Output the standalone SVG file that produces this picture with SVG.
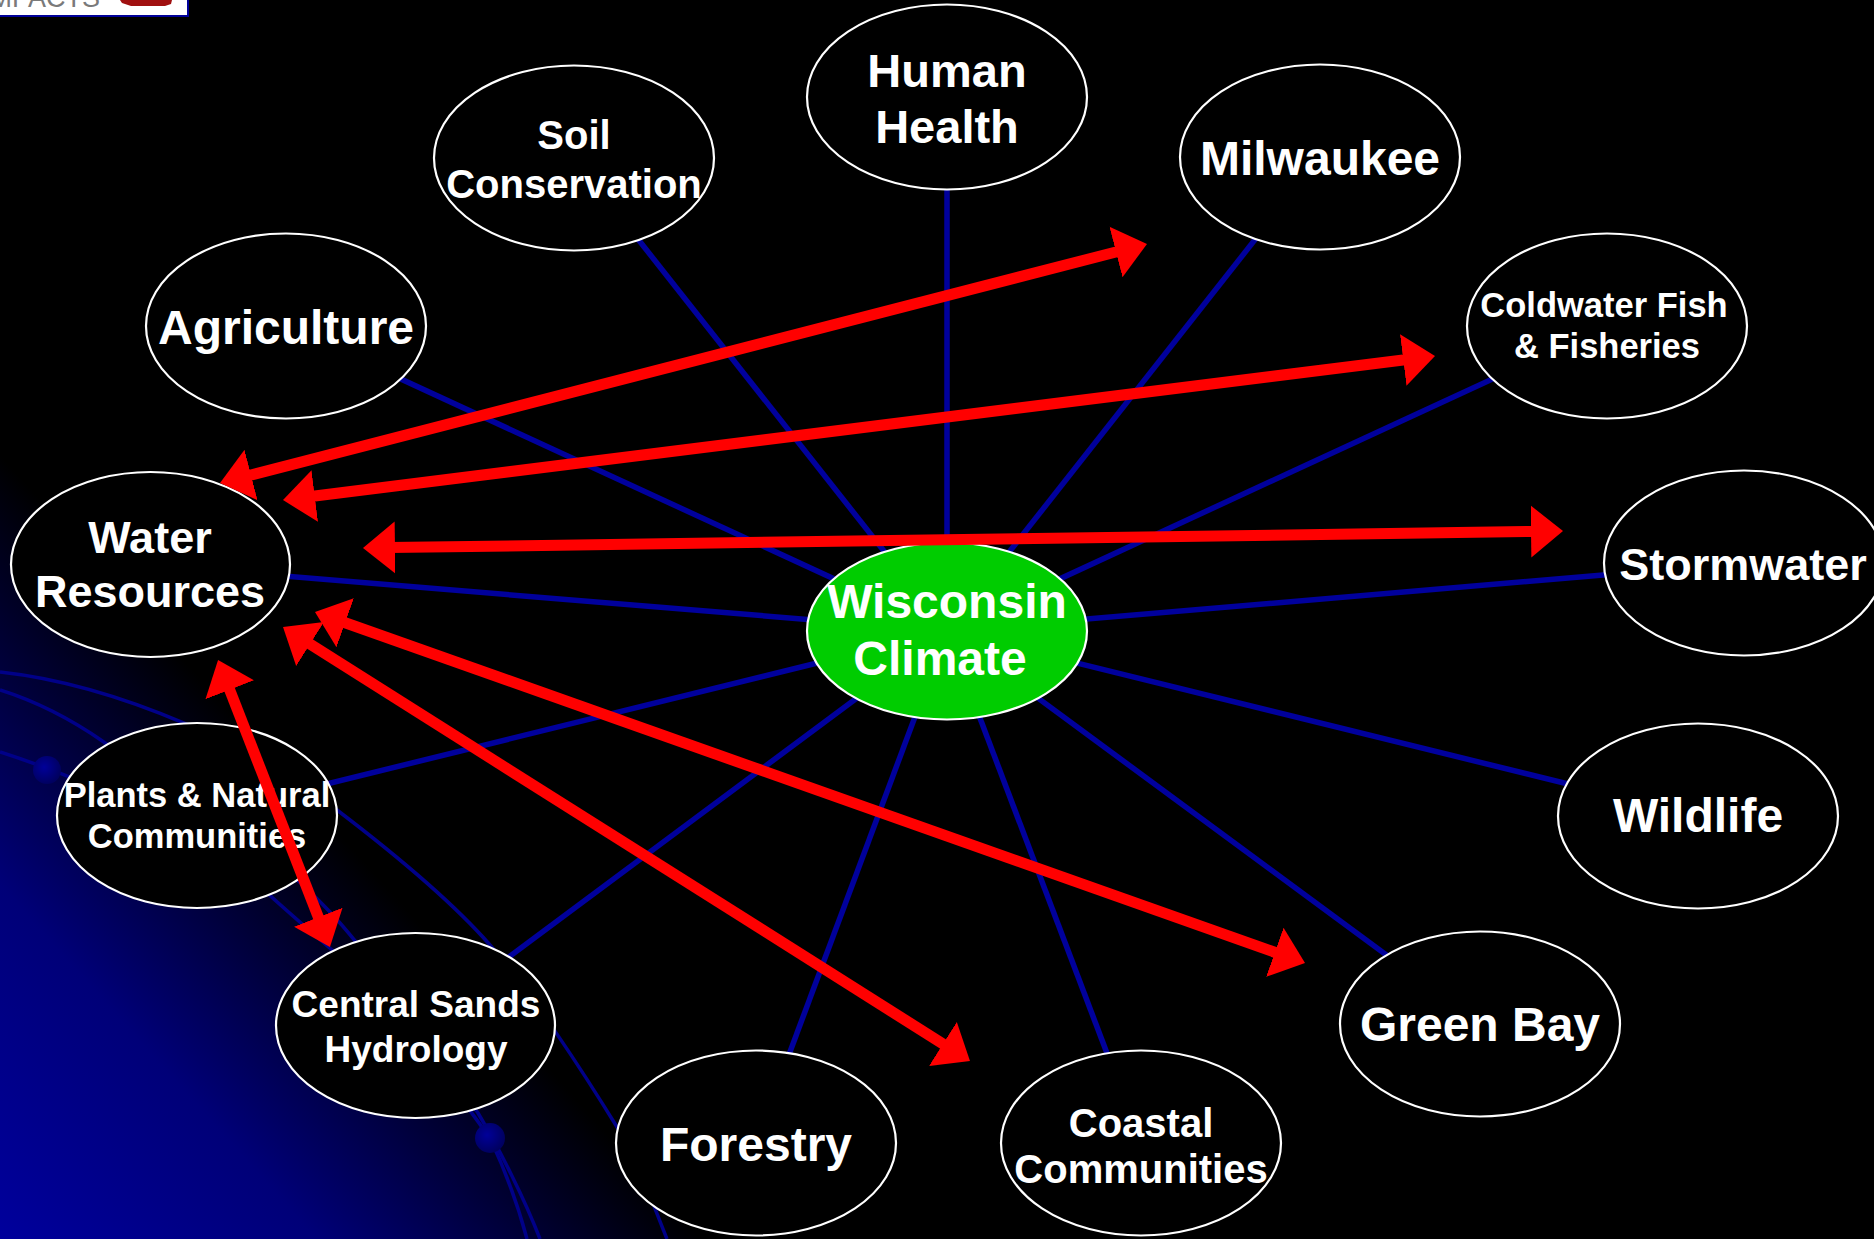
<svg xmlns="http://www.w3.org/2000/svg" width="1874" height="1239" viewBox="0 0 1874 1239">
<defs>
<style>
.bl{stroke:#00009c;stroke-width:5.5;fill:none}
.deco{stroke:#000088;stroke-width:3.5;fill:none}
.nd{fill:#000;stroke:#fff;stroke-width:2.2}
.t{font-family:"Liberation Sans",Arial,sans-serif;font-weight:bold;fill:#fff;text-anchor:middle}
.ar{stroke:#ff0000;stroke-width:11;fill:none;marker-start:url(#ah);marker-end:url(#ah)}
</style>
<linearGradient id="bg" gradientUnits="userSpaceOnUse" x1="0" y1="1239" x2="390" y2="890">
<stop offset="0" stop-color="#00009c"/>
<stop offset="0.45" stop-color="#000078"/>
<stop offset="1" stop-color="#000000"/>
</linearGradient>
<radialGradient id="dot" cx="0.4" cy="0.4" r="0.6">
<stop offset="0" stop-color="#000099"/>
<stop offset="1" stop-color="#000060"/>
</radialGradient>
<marker id="ah" markerUnits="userSpaceOnUse" markerWidth="34" markerHeight="54" viewBox="0 0 34 54" refX="6" refY="27" orient="auto-start-reverse">
<path d="M0,1 L32,27 L0,53 Z" fill="#ff0000"/>
</marker>
</defs>
<rect width="1874" height="1239" fill="#000"/>
<rect width="1874" height="1239" fill="url(#bg)"/>
<g id="logo">
<rect x="-2" y="-2" width="190" height="18" fill="#fff" stroke="#000099" stroke-width="2"/>
<text x="100" y="7" font-family="Liberation Sans,Arial,sans-serif" font-size="27" fill="#7a7a7a" text-anchor="end">IMPACTS</text>
<path d="M120,0 L172,0 L171,4 L165,6 L131,6 L122,3 Z" fill="#a01010"/>
</g>
<g id="decoration">
<path class="deco" d="M0,672 C120,685 260,750 337,810 C400,858 455,905 490,945 C530,990 585,1075 617,1127 C640,1165 655,1210 667,1239"/>
<path class="deco" d="M0,690 C70,712 140,760 200,830 C240,870 280,905 332,950 C400,1010 440,1070 490,1138 C505,1170 518,1205 527,1239"/>
<path class="deco" d="M250,840 C285,870 305,885 330,912 C380,965 440,1060 478,1113 C500,1150 525,1200 540,1239" stroke-width="3"/>
<path class="deco" d="M0,752 C40,765 80,780 110,795" stroke-width="2.5"/>
<circle cx="47" cy="770" r="14" fill="url(#dot)"/>
<circle cx="490" cy="1138" r="15" fill="url(#dot)"/>
</g>
<g id="connectors">
<line class="bl" x1="947" y1="631" x2="947" y2="97"/>
<line class="bl" x1="947" y1="631" x2="574" y2="158"/>
<line class="bl" x1="947" y1="631" x2="1320" y2="157"/>
<line class="bl" x1="947" y1="631" x2="286" y2="326"/>
<line class="bl" x1="947" y1="631" x2="1607" y2="326"/>
<line class="bl" x1="947" y1="631" x2="150" y2="565"/>
<line class="bl" x1="947" y1="631" x2="1744" y2="563"/>
<line class="bl" x1="947" y1="631" x2="197" y2="816"/>
<line class="bl" x1="947" y1="631" x2="1698" y2="816"/>
<line class="bl" x1="947" y1="631" x2="416" y2="1026"/>
<line class="bl" x1="947" y1="631" x2="1480" y2="1024"/>
<line class="bl" x1="947" y1="631" x2="756" y2="1143"/>
<line class="bl" x1="947" y1="631" x2="1141" y2="1143"/>
</g>
<g id="node-human-health">
<ellipse class="nd" cx="947" cy="97" rx="140" ry="92.5"/>
<text class="t" font-size="47"><tspan x="947" y="87">Human</tspan><tspan x="947" y="143">Health</tspan></text>
</g>
<g id="node-soil-conservation">
<ellipse class="nd" cx="574" cy="158" rx="140" ry="92.5"/>
<text class="t" font-size="40"><tspan x="574" y="149">Soil</tspan><tspan x="574" y="198">Conservation</tspan></text>
</g>
<g id="node-milwaukee">
<ellipse class="nd" cx="1320" cy="157" rx="140" ry="92.5"/>
<text class="t" font-size="48" x="1320" y="175">Milwaukee</text>
</g>
<g id="node-agriculture">
<ellipse class="nd" cx="286" cy="326" rx="140" ry="92.5"/>
<text class="t" font-size="48" x="286" y="344">Agriculture</text>
</g>
<g id="node-coldwater-fish">
<ellipse class="nd" cx="1607" cy="326" rx="140" ry="92.5"/>
<text class="t" font-size="34.5"><tspan x="1604" y="317">Coldwater Fish</tspan><tspan x="1607" y="358">&amp; Fisheries</tspan></text>
</g>
<g id="node-water-resources">
<ellipse class="nd" cx="150.5" cy="564.5" rx="139.5" ry="92.5"/>
<text class="t" font-size="45"><tspan x="150" y="553">Water</tspan><tspan x="150" y="607">Resources</tspan></text>
</g>
<g id="node-stormwater">
<ellipse class="nd" cx="1744" cy="563" rx="140" ry="92.5"/>
<text class="t" font-size="45" x="1743" y="580">Stormwater</text>
</g>
<g id="node-wisconsin-climate">
<ellipse cx="947" cy="631" rx="140" ry="88.5" fill="#00cc00" stroke="#fff" stroke-width="2.2"/>
<text class="t" font-size="48"><tspan x="947" y="618">Wisconsin</tspan><tspan x="940" y="675">Climate</tspan></text>
</g>
<g id="node-plants">
<ellipse class="nd" cx="197" cy="815.5" rx="140" ry="92.5"/>
<text class="t" font-size="34.5"><tspan x="197" y="807">Plants &amp; Natural</tspan><tspan x="197" y="848">Communities</tspan></text>
</g>
<g id="node-wildlife">
<ellipse class="nd" cx="1698" cy="816" rx="140" ry="92.5"/>
<text class="t" font-size="48" x="1698" y="832">Wildlife</text>
</g>
<g id="node-central-sands">
<ellipse class="nd" cx="415.5" cy="1025.5" rx="139.5" ry="92.5"/>
<text class="t" font-size="37"><tspan x="416" y="1017">Central Sands</tspan><tspan x="416" y="1062">Hydrology</tspan></text>
</g>
<g id="node-green-bay">
<ellipse class="nd" cx="1480" cy="1024" rx="140" ry="92.5"/>
<text class="t" font-size="48" x="1480" y="1041">Green Bay</text>
</g>
<g id="node-forestry">
<ellipse class="nd" cx="756" cy="1143" rx="140" ry="92.5"/>
<text class="t" font-size="48" x="756" y="1161">Forestry</text>
</g>
<g id="node-coastal">
<ellipse class="nd" cx="1141" cy="1143" rx="140" ry="92.5"/>
<text class="t" font-size="40"><tspan x="1141" y="1137">Coastal</tspan><tspan x="1141" y="1183">Communities</tspan></text>
</g>
<g id="arrows">
<line class="ar" x1="245.2" y1="476.5" x2="1121.8" y2="250.5"/>
<line class="ar" x1="308.8" y1="496.8" x2="1409.2" y2="359.2"/>
<line class="ar" x1="389" y1="547.6" x2="1537" y2="531.4"/>
<line class="ar" x1="339.5" y1="620.7" x2="1280.5" y2="954.3"/>
<line class="ar" x1="305" y1="640.9" x2="948" y2="1047.1"/>
<line class="ar" x1="227.5" y1="684.2" x2="320.5" y2="922.8"/>
</g>
</svg>
